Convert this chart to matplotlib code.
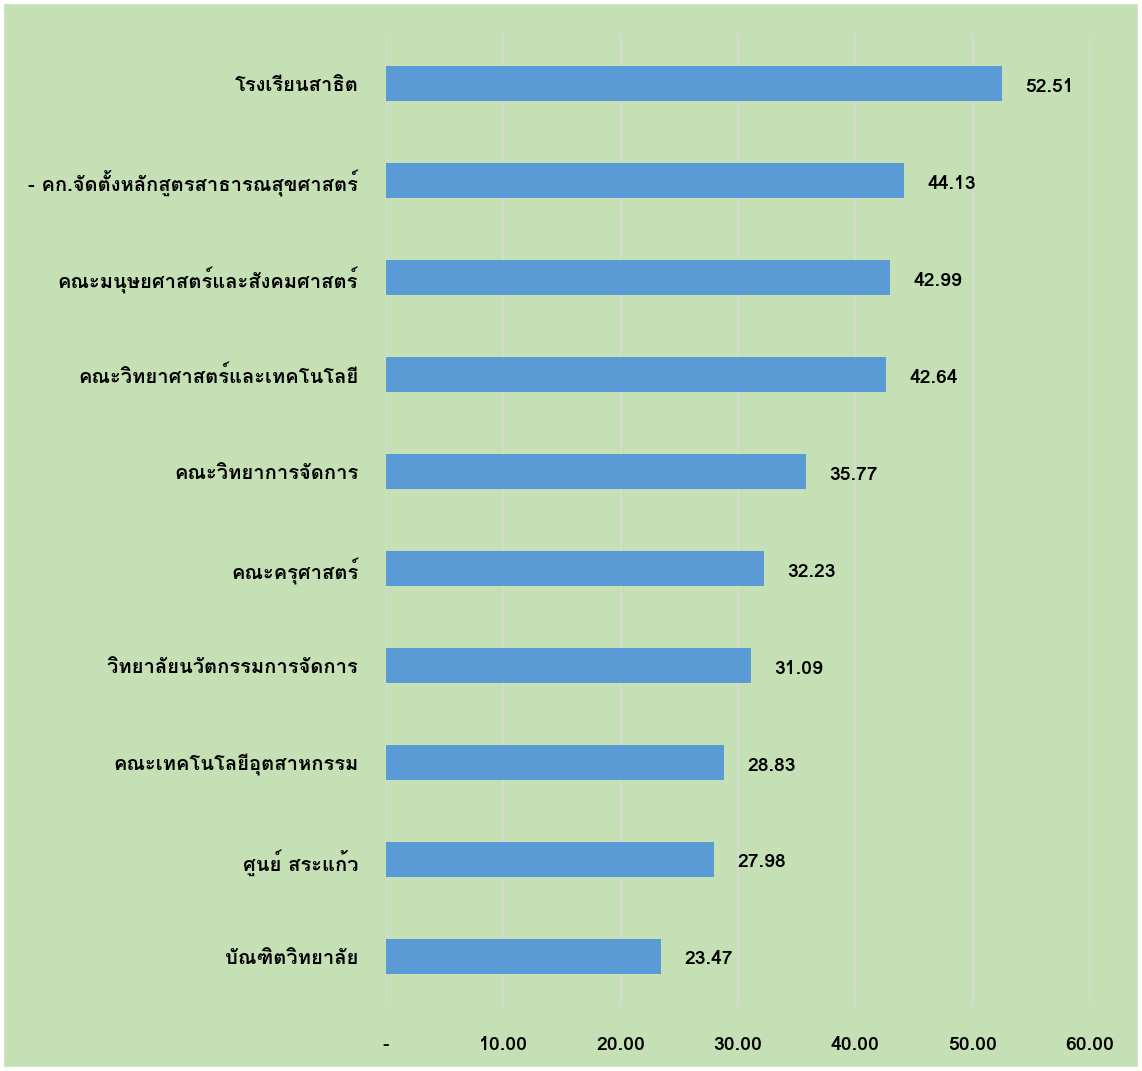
import matplotlib
matplotlib.use("Agg")
import matplotlib.pyplot as plt
from matplotlib import font_manager
from matplotlib.ticker import FixedLocator, FuncFormatter

categories = ['โรงเรียนสาธิต', '- คก.จัดตั้งหลักสูตรสาธารณสุขศาสตร์', 'คณะมนุษยศาสตร์และสังคมศาสตร์',
              'คณะวิทยาศาสตร์และเทคโนโลยี', 'คณะวิทยาการจัดการ', 'คณะครุศาสตร์',
              'วิทยาลัยนวัตกรรมการจัดการ', 'คณะเทคโนโลยีอุตสาหกรรม', 'ศูนย์ สระแก้ว', 'บัณฑิตวิทยาลัย']
values = [52.51, 44.13, 42.99, 42.64, 35.77, 32.23, 31.09, 28.83, 27.98, 23.47]
xticks = [0, 10, 20, 30, 40, 50, 60]

# find a font that has Thai glyphs
thai_font = None
for f in font_manager.fontManager.ttflist:
    try:
        cmap = matplotlib.ft2font.FT2Font(f.fname).get_charmap()
    except Exception:
        continue
    if ord('ก') in cmap and ord('ุ') in cmap:
        thai_font = f.name
        break
families = [thai_font, 'DejaVu Sans'] if thai_font else ['DejaVu Sans']
plt.rcParams['font.family'] = families

bg = '#C5E0B4'
fig = plt.figure(figsize=(11.42, 10.71), dpi=100, facecolor=bg)
ax = fig.add_axes([0.338, 0.0616, 0.6165, 0.9054])
ax.set_facecolor(bg)

y = list(range(len(categories)))
ax.barh(y, values, height=0.36, color='#5B9BD5', zorder=3)
for yi, v in zip(y, values):
    ax.text(v + 2.0, yi + 0.03, f'{v:.2f}', va='center', ha='left', fontsize=14,
            fontweight='semibold', color='black')

ax.set_yticks(y)
ax.set_yticklabels(categories, fontsize=14.5, fontweight='bold')
ax.set_ylim(len(categories) - 0.5, -0.5)
ax.set_xlim(0, 60)
ax.xaxis.set_major_locator(FixedLocator(xticks))
ax.xaxis.set_major_formatter(FuncFormatter(lambda v, p: '-' if v == 0 else f'{v:.2f}'))
ax.tick_params(axis='x', labelsize=14, length=0, pad=22)
for lbl in ax.get_xticklabels():
    lbl.set_fontweight('semibold')
ax.tick_params(axis='y', length=0, pad=20)
ax.grid(axis='x', color='#D9D9D9', linewidth=1.2, zorder=0)
for s in ax.spines.values():
    s.set_visible(False)

fig.patches.append(plt.Rectangle((0, 0), 1, 1, transform=fig.transFigure, fill=False,
                                 edgecolor='#FFFFFF', linewidth=6))
fig.savefig('out.png', dpi=100, facecolor=bg)
